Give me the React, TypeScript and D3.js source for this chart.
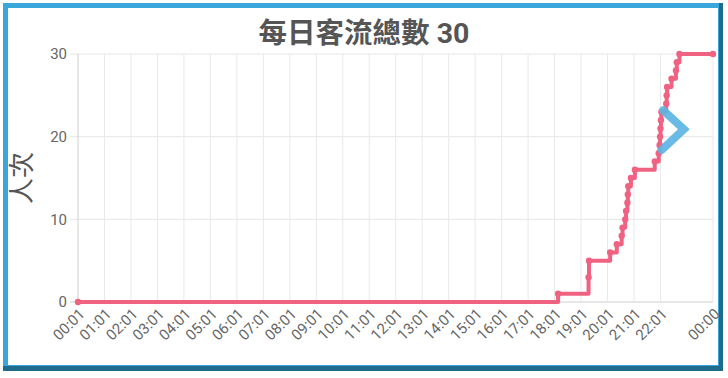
import React from "react";
import * as d3 from "d3";

const chartTitle = "每日客流總數 30";
const yAxisTitle = "人次";
const yTickValues = [0, 10, 20, 30];
const xTickLabels = [
  "00:01", "01:01", "02:01", "03:01", "04:01", "05:01", "06:01", "07:01",
  "08:01", "09:01", "10:01", "11:01", "12:01", "13:01", "14:01", "15:01",
  "16:01", "17:01", "18:01", "19:01", "20:01", "21:01", "22:01", "00:00",
];
// cumulative visitor count (step line)
const countTimes = [
  "00:01", "18:09", "19:18", "19:19", "20:07", "20:22", "20:33", "20:35",
  "20:41", "20:43", "20:46", "20:47", "20:48", "20:54", "21:03", "21:48",
  "21:57", "21:59", "22:00", "22:01", "22:02", "22:03", "22:14", "22:15",
  "22:16", "22:26", "22:36", "22:38", "22:44", "24:00",
];
const countValues = [
  0, 1, 3, 5, 6, 7, 8, 9, 10, 11, 12, 13, 14, 15, 16, 17, 18, 19, 20, 21,
  22, 23, 24, 25, 26, 27, 28, 29, 30, 30,
];
// blue marker series
const markerTimes = ["22:07", "22:54", "22:04"];
const markerValues = [23.2, 20.9, 18.4];

const W = 728;
const H = 378;
const toMin = (s: string, isEnd = false) => {
  const [h, m] = s.split(":").map(Number);
  const v = h * 60 + m;
  return isEnd && v === 0 ? 1440 : v;
};

export default function App() {
  const x = d3.scaleLinear().domain([1, 1440]).range([78, 713]);
  const y = d3.scaleLinear().domain([0, 30]).range([302, 54]);

  const ticks = xTickLabels.map((l, i) => ({
    label: l,
    m: toMin(l, i === xTickLabels.length - 1),
  }));

  const countData = countTimes.map((t, i) => ({ m: toMin(t), v: countValues[i] }));
  const markerData = markerTimes.map((t, i) => ({ m: toMin(t), v: markerValues[i] }));

  const stepLine = d3
    .line<{ m: number; v: number }>()
    .x((d) => x(d.m))
    .y((d) => y(d.v))
    .curve(d3.curveStepAfter);
  const plainLine = d3
    .line<{ m: number; v: number }>()
    .x((d) => x(d.m))
    .y((d) => y(d.v));

  const pink = "rgb(239,98,130)";
  const blue = "rgba(92,180,226,0.92)";
  const font = "Roboto, 'Noto Sans CJK TC', sans-serif";

  return (
    <svg
      width={W}
      height={H}
      style={{ position: "absolute", left: 0, top: 0, background: "#fff" }}
      fontFamily={font}
    >
      {/* frame */}
      <rect x={3} y={3} width={720} height={368} fill="#1f6b8c" />
      <rect x={3} y={3} width={716} height={363} fill="#3aa7dc" />
      <rect x={8} y={8} width={710} height={357} fill="#fff" />

      {/* title */}
      <text
        x={364}
        y={43}
        textAnchor="middle"
        fontSize={28.5}
        fontWeight="bold"
        fill="#555"
      >
        {chartTitle}
      </text>

      {/* y axis title */}
      <text
        transform="translate(31,178) rotate(-90)"
        textAnchor="middle"
        fontSize={26}
        fill="#555"
      >
        {yAxisTitle}
      </text>

      {/* grid */}
      {yTickValues.map((v) => (
        <g key={"y" + v}>
          <line x1={70} x2={713} y1={y(v)} y2={y(v)} stroke={v === 0 ? "#cfcfcf" : "#e6e6e6"} strokeWidth={1} />
          <text x={67} y={y(v)} dy="0.35em" textAnchor="end" fontSize={15} fill="#666">
            {v}
          </text>
        </g>
      ))}
      {ticks.map((t, i) => (
        <g key={"x" + i}>
          <line
            x1={x(t.m)}
            x2={x(t.m)}
            y1={54}
            y2={302}
            stroke={i === 0 ? "#cfcfcf" : "#e9e9e9"}
            strokeWidth={1}
          />
          <text
            transform={`translate(${x(t.m) + 4},${311}) rotate(-45)`}
            textAnchor="end"
            dy="0.35em"
            fontSize={15}
            fill="#666"
          >
            {t.label}
          </text>
        </g>
      ))}

      {/* count step line */}
      <path
        d={stepLine(countData) || ""}
        fill="none"
        stroke={pink}
        strokeWidth={4}
        strokeLinejoin="round"
        strokeLinecap="round"
      />
      {countData.map((d, i) => (
        <circle key={"p" + i} cx={x(d.m)} cy={y(d.v)} r={3.2} fill={pink} />
      ))}

      {/* blue marker */}
      <path
        d={plainLine(markerData) || ""}
        fill="none"
        stroke={blue}
        strokeWidth={8}
        strokeLinejoin="miter"
        strokeLinecap="round"
      />
    </svg>
  );
}
